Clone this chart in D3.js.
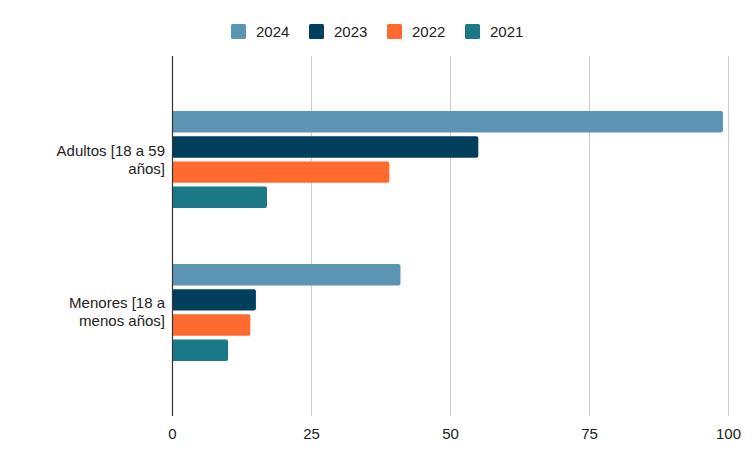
<!DOCTYPE html>
<html>
<head>
<meta charset="utf-8">
<script src="https://cdn.jsdelivr.net/npm/d3@7"></script>
<style>
  body { margin: 0; background: #fff; }
  svg { font-family: "Liberation Sans", Arial, sans-serif; }
</style>
</head>
<body>
<div id="chart"></div>
<script>
const categories = ['Adultos [18 a 59 años]', 'Menores [18 a menos años]'];
const categoryLines = [['Adultos [18 a 59', 'años]'], ['Menores [18 a', 'menos años]']];
const years = ['2024', '2023', '2022', '2021'];
const colors = ['#5b95b3', '#013f5c', '#ff6b2e', '#1b7987'];
const values2024 = [99, 41];
const values2023 = [55, 15];
const values2022 = [39, 14];
const values2021 = [17, 10];
const xTicks = [0, 25, 50, 75, 100];

const width = 752, height = 465;
const plotLeft = 172.5, plotRight = 728.5, plotTop = 56, plotBottom = 416;

const seriesValues = [values2024, values2023, values2022, values2021];

const svg = d3.select('#chart').append('svg')
  .attr('width', width)
  .attr('height', height);

const x = d3.scaleLinear().domain([0, 100]).range([plotLeft, plotRight]);
const y = d3.scaleBand().domain(categories).range([plotTop, plotBottom])
  .paddingInner(0.366).paddingOuter(0.36);
const ySub = d3.scaleBand().domain(years).range([0, y.bandwidth()]).paddingInner(0.15);

// gridlines
svg.append('g')
  .selectAll('line')
  .data(xTicks.filter(d => d > 0))
  .join('line')
  .attr('x1', d => x(d)).attr('x2', d => x(d))
  .attr('y1', plotTop).attr('y2', plotBottom)
  .attr('stroke', '#cccccc')
  .attr('stroke-width', 1);

// bars, rounded on the right end only
function barPath(x0, x1, y0, h, r) {
  return `M${x0},${y0}H${x1 - r}Q${x1},${y0} ${x1},${y0 + r}V${y0 + h - r}Q${x1},${y0 + h} ${x1 - r},${y0 + h}H${x0}Z`;
}

const groups = svg.append('g')
  .selectAll('g')
  .data(categories)
  .join('g')
  .attr('transform', d => `translate(0,${y(d)})`);

groups.selectAll('path')
  .data((d, i) => years.map((yr, j) => ({ yr, j, v: seriesValues[j][i] })))
  .join('path')
  .attr('d', d => barPath(x(0), x(d.v), ySub(d.yr), ySub.bandwidth(), 2))
  .attr('fill', d => colors[d.j]);

// zero axis line
svg.append('line')
  .attr('x1', x(0)).attr('x2', x(0))
  .attr('y1', plotTop).attr('y2', plotBottom)
  .attr('stroke', '#333')
  .attr('stroke-width', 1.2);

// x tick labels
svg.append('g')
  .selectAll('text')
  .data(xTicks)
  .join('text')
  .attr('x', d => x(d))
  .attr('y', 439)
  .attr('text-anchor', 'middle')
  .attr('font-size', 15)
  .attr('fill', '#222')
  .text(d => d);

// category labels
const labels = svg.append('g')
  .selectAll('text')
  .data(categories)
  .join('text')
  .attr('text-anchor', 'end')
  .attr('font-size', 15)
  .attr('fill', '#222')
  .attr('y', d => y(d) + y.bandwidth() / 2 - 4);

labels.selectAll('tspan')
  .data((d, i) => categoryLines[i])
  .join('tspan')
  .attr('x', 165)
  .attr('dy', (d, i) => i === 0 ? 0 : 18)
  .text(d => d);

// legend
const legendX = [231, 309, 387, 465];
const legend = svg.append('g')
  .selectAll('g')
  .data(years)
  .join('g')
  .attr('transform', (d, i) => `translate(${legendX[i]},24)`);

legend.append('rect')
  .attr('width', 15).attr('height', 15)
  .attr('rx', 1.5)
  .attr('fill', (d, i) => colors[i]);

legend.append('text')
  .attr('x', 25)
  .attr('y', 13)
  .attr('font-size', 15)
  .attr('fill', '#222')
  .text(d => d);
</script>
</body>
</html>
